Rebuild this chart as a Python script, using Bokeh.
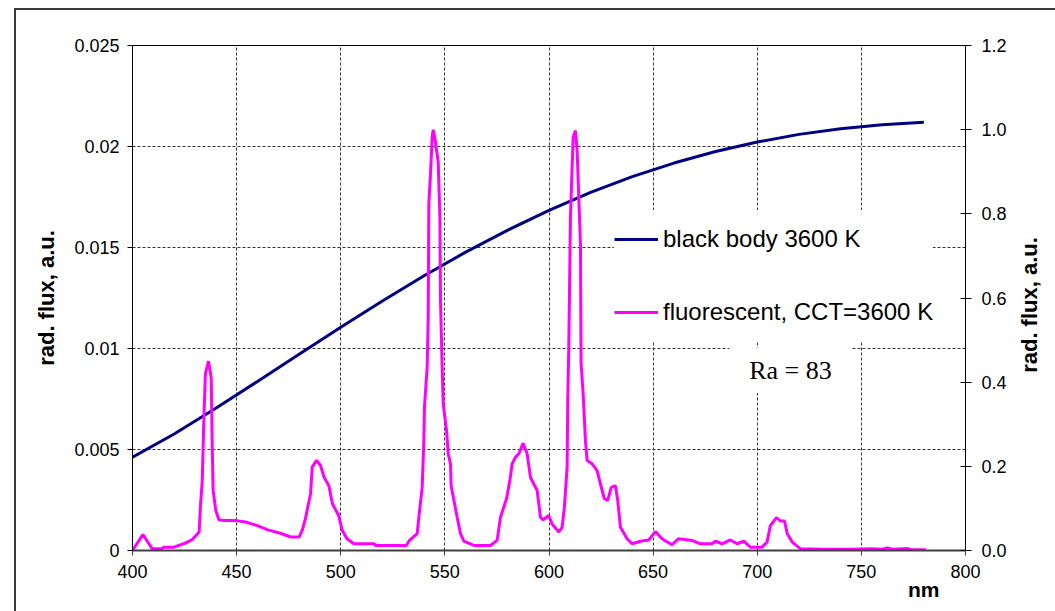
from bokeh.plotting import figure
from bokeh.layouts import row
from bokeh.models import (Range1d, LinearAxis, FixedTicker, NumeralTickFormatter,
                          Legend, LegendItem, Label, Title, Div)
from bokeh.embed import file_html
from bokeh.resources import INLINE

# Black-body spectrum (left axis, rad. flux a.u.)
bb_nm = [400, 420, 440, 460, 480, 500, 520, 540, 560, 580, 600, 620, 640, 660,
         680, 700, 720, 740, 760, 780]
bb_flux = [0.00462, 0.00577, 0.00704, 0.00837, 0.00971, 0.01105, 0.01235, 0.01360,
           0.01477, 0.01585, 0.01684, 0.01773, 0.01851, 0.01918, 0.01975, 0.02022,
           0.02060, 0.02088, 0.02108, 0.02120]

# Fluorescent lamp spectrum (right axis, normalised)
fl_nm = [400, 405, 409.5, 414, 415, 420, 424.5, 428.5, 432, 432.7, 433.5, 434.2, 435,
         436.5, 437.8, 438.3, 438.7, 440, 441.5, 444, 450, 455, 460, 465, 471, 476,
         480, 481.5, 483, 485.5, 486.3, 488.4, 490.3, 492, 494.3, 496, 499, 500.7,
         503, 506.3, 516, 516.7, 531.5, 533, 536.7, 537.5, 539.1, 539.9, 540.2,
         541.5, 542.0, 542.3, 543.1, 543.9, 544.4, 545.2, 546.8, 547.6, 547.9,
         548.7, 549.2, 550.8, 551.6, 552.7, 553.0, 555.9, 557.5, 559.1, 563.9,
         571.9, 575.1, 576.7, 579.6, 581.2, 582.3, 583.9, 585.5, 587.6, 589.5,
         591.1, 592.7, 594.3, 595.9, 597.2, 599.9, 601.5, 604.7, 606.3, 607.4,
         608.7, 609.0, 609.5, 610.3, 611.6, 612.7, 613.5, 615.1, 615.4, 616.4,
         617.5, 618.3, 620.7, 623.1, 624.7, 626.6, 628.2, 629.9, 631.9, 633.0,
         634.3, 637.5, 639.9, 643.9, 647.9, 651.1, 653.5, 655.1, 659.1, 662.3,
         668.7, 672.7, 678.3, 679.9, 683.1, 687.1, 690.3, 693.5, 696.7, 702.3,
         704.7, 706.3, 709.2, 711.2, 713.1, 714.4, 716.8, 720.8, 732, 745, 755,
         760, 762.5, 765, 772, 774, 781]
fl_flux = [0.000, 0.038, 0.004, 0.004, 0.008, 0.008, 0.016, 0.025, 0.044, 0.111, 0.166,
           0.300, 0.420, 0.450, 0.410, 0.245, 0.143, 0.095, 0.073, 0.071, 0.071, 0.067,
           0.059, 0.049, 0.041, 0.032, 0.032, 0.048, 0.075, 0.135, 0.198, 0.214, 0.202,
           0.174, 0.154, 0.111, 0.083, 0.048, 0.028, 0.016, 0.016, 0.012, 0.012, 0.024,
           0.040, 0.079, 0.150, 0.261, 0.341, 0.436, 0.554, 0.824, 0.895, 0.982, 1.000,
           0.980, 0.923, 0.792, 0.594, 0.436, 0.349, 0.285, 0.230, 0.206, 0.154, 0.079,
           0.040, 0.022, 0.012, 0.012, 0.024, 0.079, 0.123, 0.166, 0.206, 0.222, 0.230,
           0.255, 0.230, 0.174, 0.158, 0.143, 0.079, 0.073, 0.083, 0.063, 0.044, 0.055,
           0.103, 0.198, 0.356, 0.483, 0.792, 0.982, 0.998, 0.951, 0.729, 0.444, 0.372,
           0.261, 0.214, 0.206, 0.190, 0.158, 0.123, 0.119, 0.150, 0.154, 0.119, 0.055,
           0.028, 0.016, 0.022, 0.025, 0.045, 0.032, 0.025, 0.014, 0.028, 0.024, 0.016,
           0.016, 0.022, 0.016, 0.025, 0.016, 0.022, 0.008, 0.008, 0.020, 0.059, 0.078,
           0.070, 0.070, 0.040, 0.020, 0.004, 0.003, 0.003, 0.004, 0.003, 0.006, 0.003,
           0.005, 0.002, 0.002]

x_ticks = [400, 450, 500, 550, 600, 650, 700, 750, 800]
left_ticks = [0, 0.005, 0.01, 0.015, 0.02, 0.025]
right_ticks = [0.0, 0.2, 0.4, 0.6, 0.8, 1.0, 1.2]

series_names = ["black body 3600 K", "fluorescent, CCT=3600 K"]
y_title = "rad. flux, a.u."
x_title = "nm"
ra_text = "Ra = 83"

FONT = "Liberation Sans"

p = figure(width=1002, height=601, output_backend="svg", toolbar_location=None,
           x_range=Range1d(400, 800), y_range=Range1d(0, 0.025),
           min_border_left=116, min_border_right=53, min_border_top=35,
           min_border_bottom=61)
p.extra_y_ranges = {"right": Range1d(0, 1.2)}
p.background_fill_color = "white"
p.border_fill_color = "white"
p.outline_line_color = "black"
p.outline_line_width = 1

# grid
for g in (p.xgrid, p.ygrid):
    g.grid_line_color = "#333333"
    g.grid_line_dash = "3 2"
    g.grid_line_width = 1
p.xgrid.ticker = FixedTicker(ticks=x_ticks)
p.ygrid.ticker = FixedTicker(ticks=left_ticks)

# bottom axis
xa = p.xaxis[0]
xa.ticker = FixedTicker(ticks=x_ticks)
xa.axis_line_color = "#404040"
xa.axis_line_width = 2
xa.major_tick_line_color = "#404040"
xa.major_tick_out = 5
xa.major_tick_in = 0
xa.minor_tick_line_color = None
xa.major_label_standoff = 9
xa.major_label_text_font = FONT
xa.major_label_text_font_size = "18px"
xa.major_label_text_color = "black"

# unit label under the right end of the wavelength axis
p.add_layout(Title(text=x_title, align="right", offset=26, standoff=-10,
                   text_font=FONT, text_font_size="21px", text_font_style="bold",
                   text_color="black"), "below")

# left axis
ya = p.yaxis[0]
ya.ticker = FixedTicker(ticks=left_ticks)
ya.formatter = NumeralTickFormatter(format="0.[000]")
ya.axis_line_color = "black"
ya.major_tick_line_color = "black"
ya.major_tick_out = 5
ya.major_tick_in = 0
ya.minor_tick_line_color = None
ya.major_label_standoff = 8
ya.major_label_text_font = FONT
ya.major_label_text_font_size = "18px"
ya.major_label_text_color = "black"
ya.axis_label = y_title
ya.axis_label_text_font = FONT
ya.axis_label_text_font_size = "22px"
ya.axis_label_text_font_style = "bold"
ya.axis_label_text_color = "black"
ya.axis_label_standoff = 12

# right axis
ra = LinearAxis(y_range_name="right", ticker=FixedTicker(ticks=right_ticks),
                formatter=NumeralTickFormatter(format="0.0"))
ra.axis_line_color = "black"
ra.major_tick_line_color = "black"
ra.major_tick_out = 6
ra.major_tick_in = 5
ra.minor_tick_line_color = None
ra.major_label_standoff = 10
ra.major_label_text_font = FONT
ra.major_label_text_font_size = "18px"
ra.major_label_text_color = "black"
p.add_layout(ra, "right")

# spectra
bb = p.line(bb_nm, bb_flux, line_color="#000080", line_width=3)
fl = p.line(fl_nm, fl_flux, line_color="#FF00FF", line_width=3, y_range_name="right")

legend = Legend(items=[LegendItem(label=series_names[0], renderers=[bb]),
                       LegendItem(label=series_names[1], renderers=[fl])],
                location=(482, 209), orientation="vertical",
                label_text_font=FONT, label_text_font_size="24px",
                label_text_color="black",
                glyph_width=44, glyph_height=58, label_height=58,
                spacing=15, padding=10, label_standoff=5, margin=0,
                border_line_color=None, background_fill_color="white",
                background_fill_alpha=1.0)
p.add_layout(legend)

p.add_layout(Label(x=658, y=180, x_units="screen", y_units="screen", text=ra_text,
                   text_font="Liberation Serif", text_font_size="26px",
                   text_color="black", text_align="center", text_baseline="middle",
                   background_fill_color="white", background_fill_alpha=1.0,
                   padding=dict(left=20, right=20, top=8, bottom=8)))

# right-hand axis title, reading upwards
side = Div(text=(
    '<div style="position:relative;width:37px;height:601px;">'
    '<div style="position:absolute;left:12px;top:295px;'
    'transform:translate(-50%,-50%) rotate(-90deg);white-space:nowrap;'
    "font-family:'Liberation Sans';font-weight:bold;font-size:22px;color:black;"
    'line-height:1;">' + y_title + '</div></div>'),
    width=37, height=601, margin=(0, 0, 0, 0))

layout = row(p, side, spacing=0,
             styles={"margin-left": "14px", "margin-top": "8px",
                     "border-left": "2px solid #3a3a3a",
                     "border-top": "2px solid #3a3a3a",
                     "background-color": "white"})

open("out.html", "w").write(file_html(layout, INLINE))
